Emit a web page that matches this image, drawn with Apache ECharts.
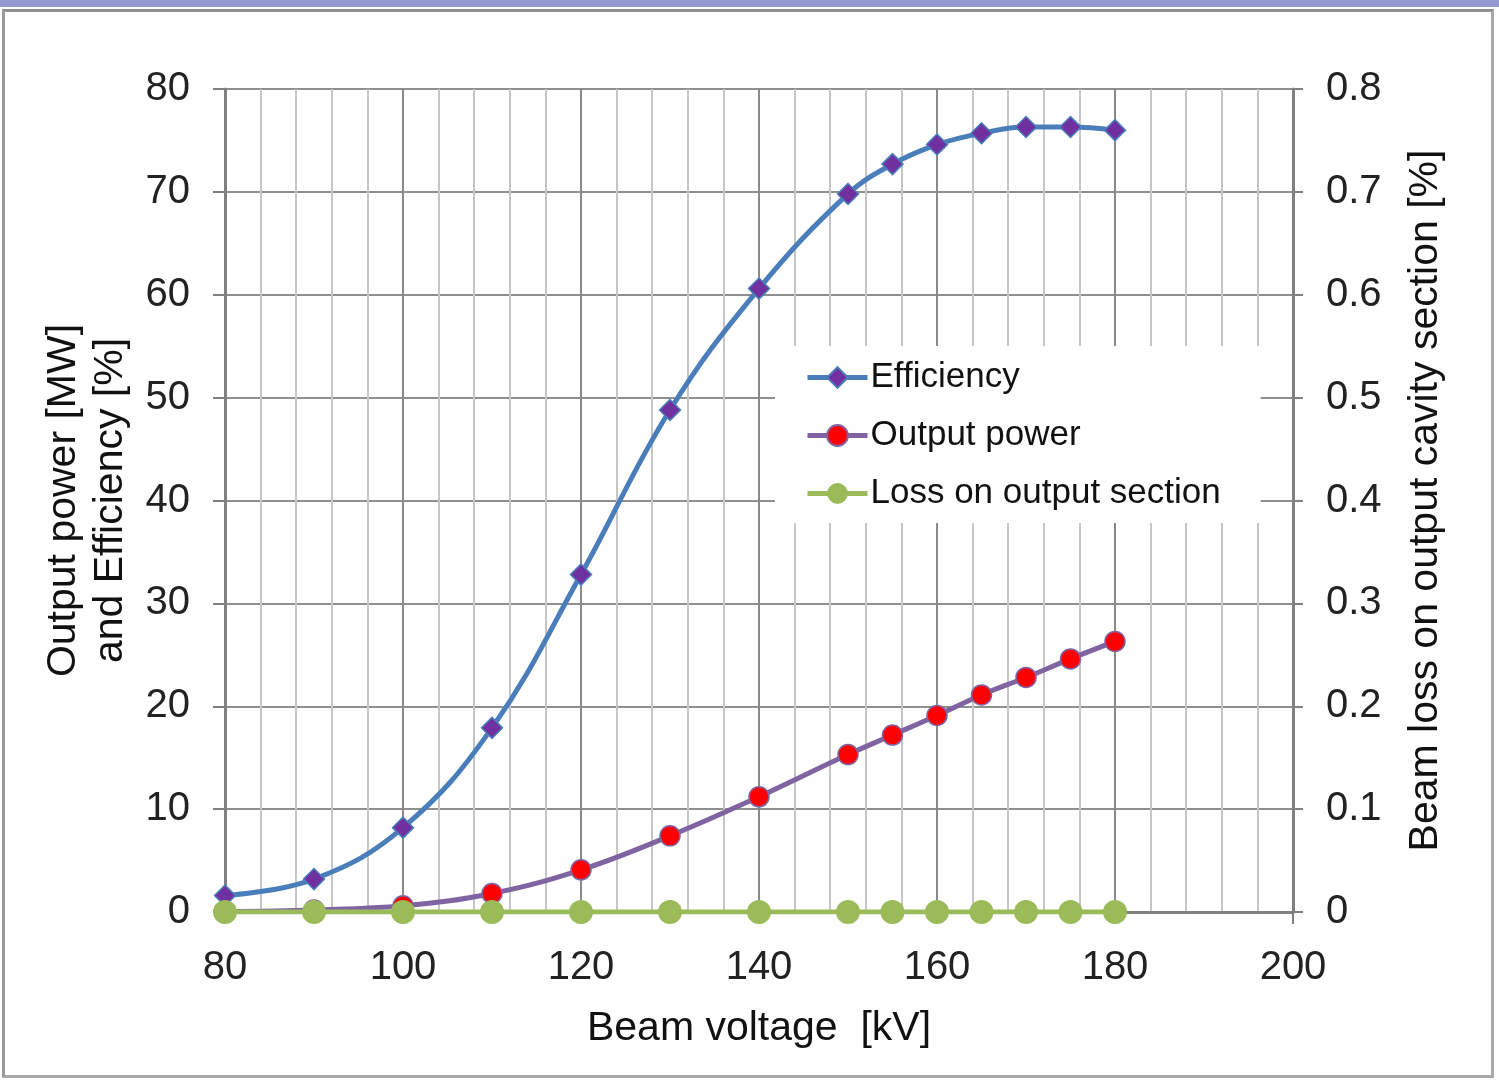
<!DOCTYPE html>
<html>
<head>
<meta charset="utf-8">
<title>Beam voltage</title>
<script src="https://cdn.jsdelivr.net/npm/echarts@6/dist/echarts.min.js"></script>
<style>
    html, body { margin: 0; padding: 0; background: #fff; }
    .band { position: absolute; left: 0; top: 0; width: 1499px; height: 7px; background: #9599d0; }
    .frame { position: absolute; left: 2px; top: 9px; width: 1492px; height: 1069px; box-sizing: border-box;
             border: 3px solid #a9a9a9; border-top-color: #8f8f8f; border-left-color: #9a9a9a; }
    .chart { position: absolute; left: 0; top: 0; width: 1499px; height: 1081px; }
</style>
</head>
<body>
<div class="band"></div>
<div class="frame"></div>
<div class="chart"></div>
<script>
// beam voltage [kV]
var voltage = [80, 90, 100, 110, 120, 130, 140, 150, 155, 160, 165, 170, 175, 180];
// efficiency [%]
var efficiency = [1.6, 3.2, 8.2, 17.9, 32.8, 48.8, 60.6, 69.8, 72.7, 74.6, 75.7, 76.3, 76.3, 76.0];
// output power [MW]
var outputPower = [0.05, 0.2, 0.6, 1.8, 4.1, 7.4, 11.2, 15.3, 17.2, 19.1, 21.1, 22.8, 24.6, 26.3];
// beam loss on output cavity section [%]
var loss = [0, 0, 0, 0, 0, 0, 0, 0, 0, 0, 0, 0, 0, 0];

function pairs(xs, ys){
    var out = [];
    for (var i = 0; i < xs.length; i++) out.push([xs[i], ys[i]]);
    return out;
}

window.onload = function(){
    var font = 'Liberation Sans, Arial, sans-serif';
    var myChart = echarts.init(document.querySelector('.chart'));
    var option = {
        backgroundColor: 'transparent',
        animation: false,
        textStyle: { fontFamily: font },
        grid: {
            left: 225,
            right: 206,
            top: 89,
            bottom: 169,
            containLabel: false
        },
        legend: {
            orient: 'vertical',
            left: 775,
            top: 346,
            padding: [14, 40, 12, 30],
            backgroundColor: '#fff',
            itemWidth: 60,
            itemHeight: 26,
            itemGap: 23,
            lineStyle: { width: 5 },
            textStyle: { fontSize: 35, color: '#111', fontFamily: font, padding: [0, 0, 0, -2] },
            data: ['Efficiency', 'Output power', 'Loss on output section']
        },
        xAxis: {
            type: 'value',
            min: 80,
            max: 200,
            interval: 20,
            name: 'Beam voltage  [kV]',
            nameLocation: 'middle',
            nameGap: 96,
            nameTextStyle: { fontSize: 41, color: '#111' },
            axisLine: { lineStyle: { color: '#808080', width: 3 } },
            axisTick: { show: true, length: 12, lineStyle: { color: '#808080', width: 2 } },
            axisLabel: { fontSize: 40, color: '#222', margin: 36 },
            splitLine: { show: true, lineStyle: { color: '#8a8a8a', width: 2 } },
            minorTick: { show: false, splitNumber: 5 },
            minorSplitLine: { show: true, lineStyle: { color: '#c6c6c6', width: 2 } }
        },
        yAxis: [
            {
                type: 'value',
                min: 0,
                max: 80,
                interval: 10,
                name: 'Output power [MW]\nand Efficiency [%]',
                nameLocation: 'middle',
                nameGap: 81,
                nameTextStyle: { fontSize: 41, color: '#111', lineHeight: 47 },
                axisLine: { show: true, lineStyle: { color: '#808080', width: 3 } },
                axisTick: { show: true, length: 12, lineStyle: { color: '#808080', width: 2 } },
                axisLabel: { fontSize: 40, color: '#222', margin: 35 },
                splitLine: { show: true, lineStyle: { color: '#8f8f8f', width: 2 } }
            },
            {
                type: 'value',
                min: 0,
                max: 0.8,
                interval: 0.1,
                position: 'right',
                name: 'Beam loss on output cavity section [%]',
                nameLocation: 'middle',
                nameGap: 112,
                nameRotate: 90,
                nameTextStyle: { fontSize: 41, color: '#111' },
                axisLine: { show: true, lineStyle: { color: '#808080', width: 3 } },
                axisTick: { show: true, length: 10, lineStyle: { color: '#808080', width: 2 } },
                axisLabel: { fontSize: 40, color: '#222', margin: 33 },
                splitLine: { show: false }
            }
        ],
        series: [
            {
                name: 'Efficiency',
                type: 'line',
                smooth: 0.4,
                symbol: 'diamond',
                symbolSize: 21,
                lineStyle: { color: '#4a7ebb', width: 5 },
                itemStyle: { color: '#7030a0', borderColor: '#4a7ebb', borderWidth: 1.5 },
                data: pairs(voltage, efficiency)
            },
            {
                name: 'Output power',
                type: 'line',
                smooth: 0.4,
                symbol: 'circle',
                symbolSize: 20,
                lineStyle: { color: '#8064a2', width: 5 },
                itemStyle: { color: '#ff0000', borderColor: '#8064a2', borderWidth: 1.5 },
                data: pairs(voltage, outputPower)
            },
            {
                name: 'Loss on output section',
                type: 'line',
                yAxisIndex: 1,
                symbol: 'circle',
                symbolSize: 24,
                lineStyle: { color: '#9bbb59', width: 5 },
                itemStyle: { color: '#9bbb59' },
                data: pairs(voltage, loss)
            }
        ]
    };
    myChart.setOption(option);
}
</script>
</body>
</html>
